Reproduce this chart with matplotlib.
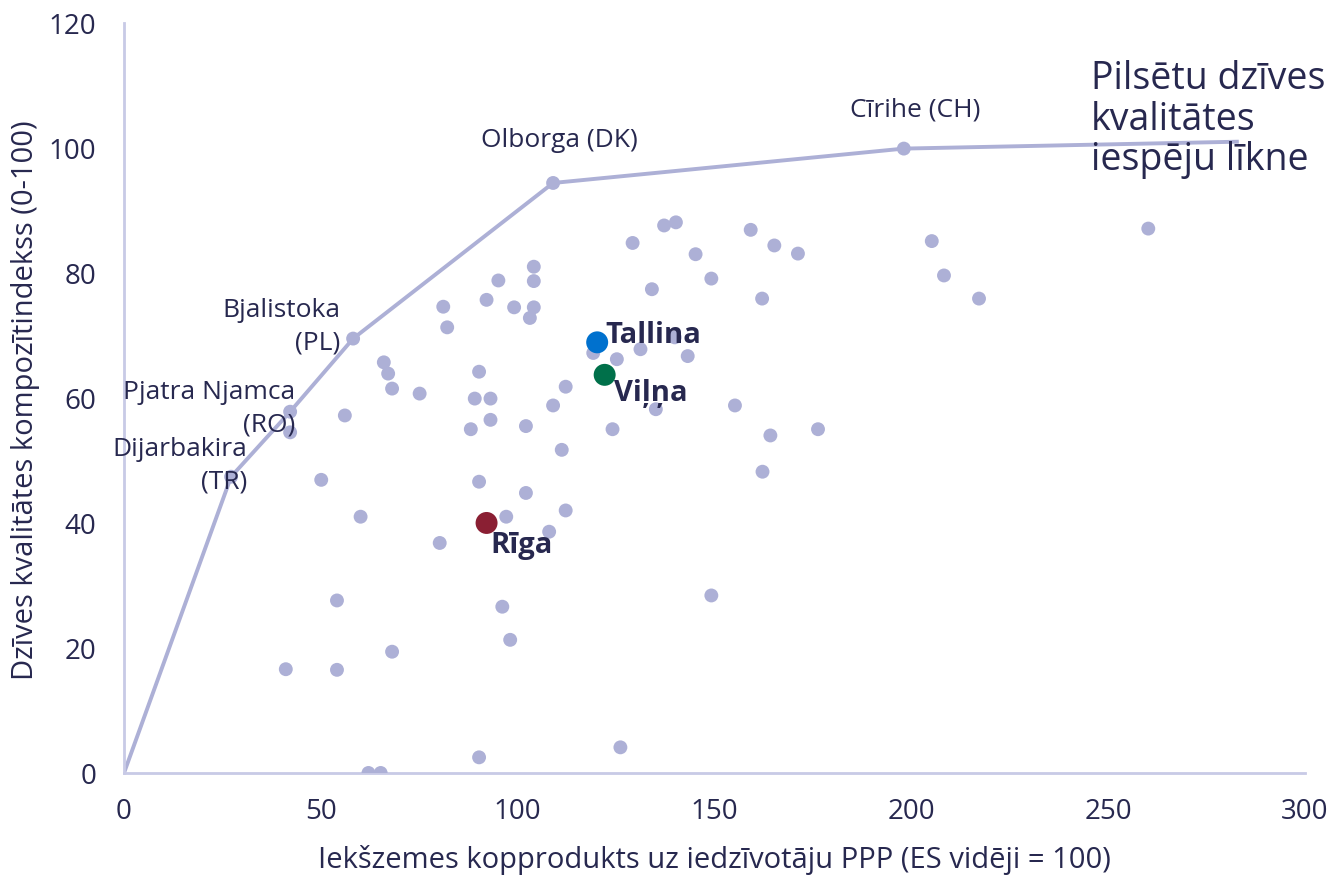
import matplotlib
matplotlib.use("Agg")
import matplotlib.pyplot as plt

# Robežlīkne (iespēju līkne) - pilsētas uz līknes
curve_x = [0, 27.2, 42.2, 58.2, 109.0, 198.1, 282.7]
curve_y = [0, 47.4, 57.8, 69.5, 94.4, 99.9, 101.0]

# Pārējās pilsētas (IKP uz iedz. PPP, dzīves kvalitātes indekss)
city_x = [27.2, 42.2, 58.2, 109.0, 198.1,
          81.1, 92.1, 99.1, 104.1, 103.1, 82.1, 95.1, 104.1, 104.1,
          66.0, 67.1, 68.1, 75.1, 90.2, 89.1, 93.1, 93.1, 88.1, 102.1, 109.0,
          42.2, 56.1, 50.1, 90.2, 102.1, 97.1, 60.1, 80.2, 108.0, 112.2,
          129.2, 137.2, 140.2, 159.2, 165.2, 171.2, 145.2, 149.2, 134.1, 162.1,
          119.2, 131.2, 125.2, 143.2, 139.9, 135.1, 155.2, 112.2, 124.1, 111.2,
          164.2, 176.3, 205.2, 208.3, 217.2, 260.2, 162.2,
          54.1, 96.1, 149.2, 98.1, 68.1, 41.1, 54.1, 126.1, 90.2, 62.1, 65.2]
city_y = [47.4, 57.8, 69.5, 94.4, 99.9,
          74.6, 75.7, 74.5, 74.5, 72.8, 71.3, 78.8, 78.7, 81.0,
          65.7, 63.9, 61.5, 60.7, 64.2, 59.9, 59.9, 56.5, 55.0, 55.5, 58.8,
          54.5, 57.2, 46.9, 46.6, 44.8, 41.0, 41.0, 36.8, 38.6, 42.0,
          84.8, 87.6, 88.1, 86.9, 84.4, 83.1, 83.0, 79.1, 77.4, 75.9,
          67.2, 67.8, 66.2, 66.7, 69.7, 58.2, 58.8, 61.8, 55.0, 51.7,
          54.0, 55.0, 85.1, 79.6, 75.9, 87.1, 48.2,
          27.6, 26.6, 28.4, 21.3, 19.4, 16.6, 16.5, 4.1, 2.5, 0.0, 0.0]

# Baltijas galvaspilsētas
baltic_names = ["Tallina", "Viļņa", "Rīga"]
baltic_x = [120.2, 122.1, 92.1]
baltic_y = [68.9, 63.7, 40.0]
baltic_colors = ["#0071CE", "#00704A", "#8A1F33"]

curve_labels = ["Olborga (DK)", "Cīrihe (CH)", "Bjalistoka\n(PL)",
                "Pjatra Njamca\n(RO)", "Dijarbakira\n(TR)"]

x_ticks = [0, 50, 100, 150, 200, 250, 300]
y_ticks = [0, 20, 40, 60, 80, 100, 120]

TXT = "#27284F"
LAV = "#ADB0D6"

plt.rcParams["font.family"] = ["Open Sans", "DejaVu Sans"]

fig = plt.figure(figsize=(13.32, 8.78), dpi=100)
ax = fig.add_axes([0.0931, 0.1185, 0.8866, 0.8542])

ax.plot(curve_x, curve_y, color=LAV, lw=2.8, zorder=2)
ax.scatter(city_x, city_y, s=100, color=LAV, edgecolors="none", zorder=3)
ax.scatter(baltic_x, baltic_y, s=250, c=baltic_colors, edgecolors="none", zorder=4)

# uzraksti pie līknes
ax.text(110.5, 101.3, curve_labels[0], ha="center", va="center", fontsize=19, color=TXT)
ax.text(200.9, 106.2, curve_labels[1], ha="center", va="center", fontsize=19, color=TXT)
ax.text(54.9, 71.6, curve_labels[2], ha="right", va="center", multialignment="right",
        fontsize=19, color=TXT, linespacing=1.4)
ax.text(43.4, 58.4, curve_labels[3], ha="right", va="center", multialignment="right",
        fontsize=19, color=TXT, linespacing=1.4, zorder=5)
ax.text(31.2, 49.3, curve_labels[4], ha="right", va="center", multialignment="right",
        fontsize=19, color=TXT, linespacing=1.4)

ax.text(245.6, 104.7, "Pilsētu dzīves\nkvalitātes\niespēju līkne", ha="left", va="center",
        fontsize=27, color=TXT, linespacing=1.08)

# Baltijas pilsētu uzraksti
ax.text(122.4, 70.1, baltic_names[0], ha="left", va="center", fontsize=21,
        fontweight="bold", color=TXT, zorder=5)
ax.text(124.5, 60.8, baltic_names[1], ha="left", va="center", fontsize=21,
        fontweight="bold", color=TXT, zorder=5)
ax.text(93.0, 36.5, baltic_names[2], ha="left", va="center", fontsize=21,
        fontweight="bold", color=TXT, zorder=5)

ax.set_xlim(0, 300)
ax.set_ylim(0, 120)
ax.set_xticks(x_ticks)
ax.set_yticks(y_ticks)
ax.tick_params(length=0, labelsize=20, labelcolor=TXT)
ax.tick_params(axis="x", pad=17)
ax.tick_params(axis="y", pad=20)
for s in ["top", "right"]:
    ax.spines[s].set_visible(False)
for s in ["left", "bottom"]:
    ax.spines[s].set_color("#C8CAE6")
    ax.spines[s].set_linewidth(2)

ax.set_xlabel("Iekšzemes kopprodukts uz iedzīvotāju PPP (ES vidēji = 100)",
              fontsize=21, color=TXT)
ax.set_ylabel("Dzīves kvalitātes kompozītindekss (0-100)", fontsize=21, color=TXT)
ax.xaxis.set_label_coords(0.5, -0.1147)
ax.yaxis.set_label_coords(-0.0838, 0.499)
ax.xaxis.label.set_va("center")
ax.yaxis.label.set_va("center")

fig.savefig("out.png", dpi=100)
